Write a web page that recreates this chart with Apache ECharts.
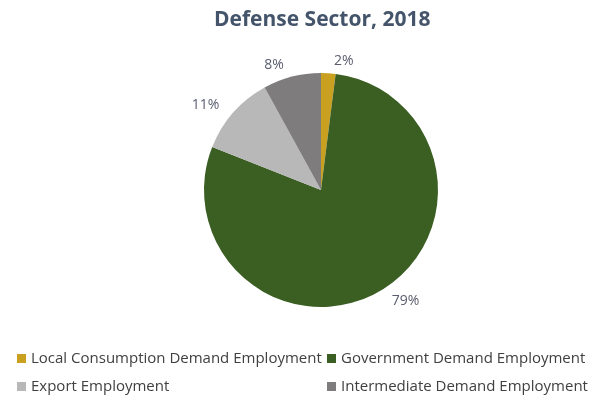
<!DOCTYPE html>
<html>
<head>
<meta charset="utf-8">
<script src="https://cdn.jsdelivr.net/npm/echarts@6/dist/echarts.min.js"></script>
<style>
  html, body { margin: 0; padding: 0; background: #ffffff; }
  #chart { width: 595px; height: 397px; }
</style>
</head>
<body>
<div id="chart"></div>
<script>
// Employment shares in the defense sector, 2018 (percent)
const categories = [
  'Local Consumption Demand Employment',
  'Government Demand Employment',
  'Export Employment',
  'Intermediate Demand Employment'
];
const shares = [2, 79, 11, 8];
const colors = ['#C9A020', '#3B5E23', '#B8B8B8', '#7E7C7D'];

const pieData = categories.map((name, i) => ({
  name: name,
  value: shares[i],
  itemStyle: { color: colors[i] }
}));

const legendText = { color: '#404040', fontSize: 15, fontFamily: 'Open Sans, sans-serif' };

const chart = echarts.init(document.getElementById('chart'));
chart.setOption({
  animation: false,
  title: {
    text: 'Defense Sector, 2018',
    left: 209,
    top: 5,
    textStyle: { color: '#44546A', fontSize: 21, fontWeight: 'bold', fontFamily: 'Open Sans, sans-serif' }
  },
  legend: [
    {
      data: [categories[0], categories[2]],
      orient: 'vertical',
      left: 12,
      top: 346,
      height: 90,
      itemWidth: 9,
      itemHeight: 9,
      itemGap: 13,
      icon: 'rect',
      textStyle: legendText
    },
    {
      data: [categories[1], categories[3]],
      orient: 'vertical',
      left: 322,
      top: 346,
      height: 90,
      itemWidth: 9,
      itemHeight: 9,
      itemGap: 13,
      icon: 'rect',
      textStyle: legendText
    }
  ],
  series: [{
    type: 'pie',
    center: [321, 190],
    radius: 117,
    startAngle: 90,
    clockwise: true,
    data: pieData,
    label: {
      show: true,
      position: 'outside',
      formatter: '{c}%',
      color: '#5A5D6E',
      fontSize: 14,
      fontFamily: 'Open Sans, sans-serif'
    },
    labelLine: { show: false, length: 12, length2: 0 },
    itemStyle: { borderWidth: 0 }
  }]
});
</script>
</body>
</html>
